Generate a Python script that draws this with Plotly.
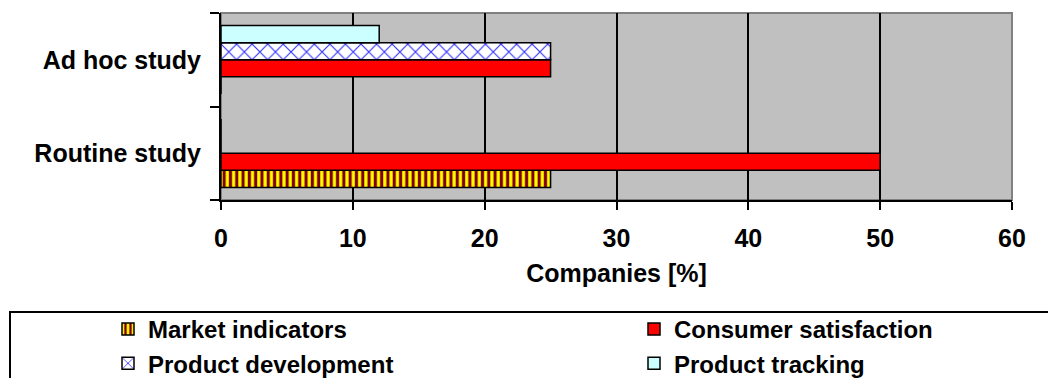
import plotly.graph_objects as go

# Study types (bottom to top) and share of companies per purpose
studies = ["Routine study", "Ad hoc study"]
market_indicators = [25, 0]
consumer_satisfaction = [50, 25]
product_development = [0, 25]
product_tracking = [0, 12]

x_ticks = [0, 10, 20, 30, 40, 50, 60]

FONT = "Liberation Sans, Arial, sans-serif"
W, H = 1048, 378
ML, MR, MT, MB = 221, 36, 13, 178
PW = W - ML - MR
PH = H - MT - MB


def px_x(p):
    return (p - ML) / PW


def px_y(p):
    return (H - MB - p) / PH


outline = dict(color="black", width=1.5)

fig = go.Figure()
fig.add_trace(go.Bar(
    y=studies, x=market_indicators, orientation="h", name="Market indicators",
    marker=dict(color="#FFFF00", line=outline,
                pattern=dict(shape="|", fgcolor="#800000", bgcolor="#FFFF00",
                             size=6.3, solidity=0.5, fillmode="replace")),
    legend="legend", legendgroup="a",
))
fig.add_trace(go.Bar(
    y=studies, x=consumer_satisfaction, orientation="h", name="Consumer satisfaction",
    marker=dict(color="#FF0000", line=outline),
    legend="legend2", legendgroup="b",
))
fig.add_trace(go.Bar(
    y=studies, x=product_development, orientation="h", name="Product development",
    marker=dict(color="#FFFFFF", line=outline,
                pattern=dict(shape="x", fgcolor="#3333FF", bgcolor="#FFFFFF",
                             size=11, solidity=0.2, fillmode="replace")),
    legend="legend", legendgroup="c",
))
fig.add_trace(go.Bar(
    y=studies, x=product_tracking, orientation="h", name="Product tracking",
    marker=dict(color="#CCFFFF", line=outline),
    legend="legend2", legendgroup="d",
))

legend_common = dict(
    orientation="v", xanchor="left", yanchor="top",
    font=dict(family=FONT, size=24, color="black", weight="bold"),
    bgcolor="rgba(0,0,0,0)", borderwidth=0, tracegroupgap=0,
    traceorder="grouped",
)

fig.update_layout(
    width=W, height=H,
    margin=dict(l=ML, r=MR, t=MT, b=MB, pad=0, autoexpand=False),
    paper_bgcolor="white", plot_bgcolor="#C0C0C0",
    barmode="group", bargap=0.27, bargroupgap=0,
    font=dict(family=FONT, size=25, color="black", weight="bold"),
    xaxis=dict(
        range=[0, 60], tickvals=x_ticks, ticktext=[str(v) for v in x_ticks],
        showgrid=True, gridcolor="black", gridwidth=1.5,
        ticks="outside", ticklen=8, tickwidth=2, tickcolor="black",
        showline=True, linecolor="black", linewidth=2,
        zeroline=False, ticklabelstandoff=7,
        title=dict(text="Companies [%]", standoff=13,
                   font=dict(family=FONT, size=25, weight="bold")),
        fixedrange=True,
    ),
    yaxis=dict(
        categoryorder="array", categoryarray=studies,
        tickson="boundaries", ticks="outside", ticklen=9, tickwidth=2,
        tickcolor="black", showgrid=False,
        showline=True, linecolor="black", linewidth=2,
        ticklabelstandoff=13, fixedrange=True,
    ),
    legend=dict(x=px_x(108), y=px_y(307), **legend_common),
    legend2=dict(x=px_x(634), y=px_y(307), **legend_common),
    shapes=[
        # grey frame of the plotting area
        dict(type="rect", xref="paper", yref="paper", x0=0, x1=1, y0=0, y1=1,
             line=dict(color="#808080", width=2), layer="below"),
        # legend frame
        dict(type="rect", xref="paper", yref="paper",
             x0=px_x(10), x1=px_x(1060), y0=px_y(312), y1=px_y(390),
             line=dict(color="black", width=2)),
    ],
    showlegend=True,
)

fig.write_html("out.html")
